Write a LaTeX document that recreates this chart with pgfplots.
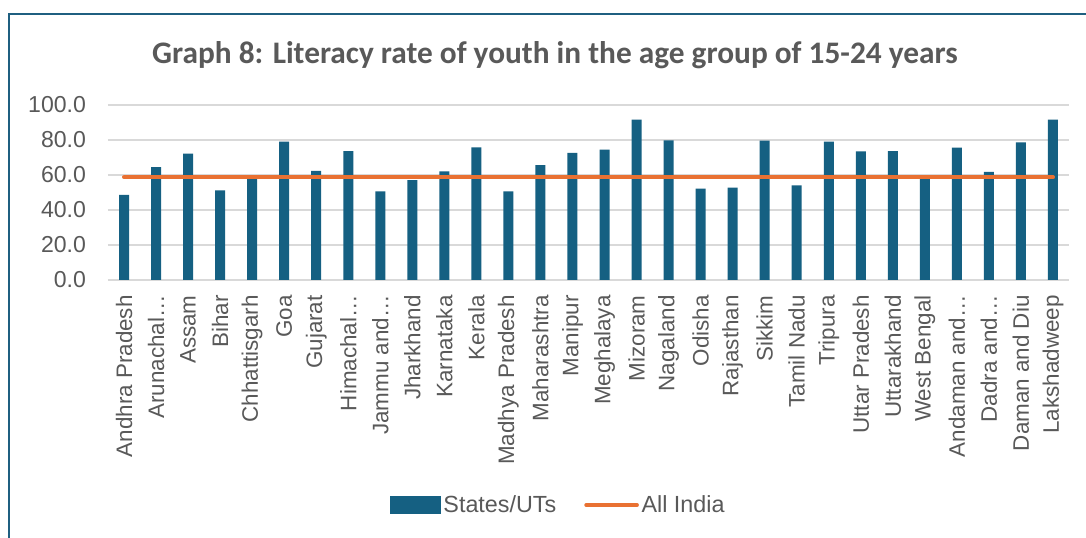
\documentclass[border=0pt]{standalone}
\usepackage{pgfplots}
\pgfplotsset{compat=1.18}
\usepackage{fontspec}
\setmainfont{Liberation Sans}
\newfontfamily\titlefont{Carlito}
\definecolor{barblue}{HTML}{156082}
\definecolor{lineorange}{HTML}{E97132}
\definecolor{txtgray}{HTML}{595959}
\definecolor{gridgray}{HTML}{D9D9D9}
\definecolor{framecol}{HTML}{1F5F80}

\begin{document}
\begin{tikzpicture}
% 1 px of the reference = 0.75pt; axis lower-left sits at px (108,280)
\useasboundingbox (-81pt,-193.5pt) rectangle (733.5pt,210pt);
\fill[white] (-81pt,-193.5pt) rectangle (733.5pt,210pt);
\draw[framecol, line width=1.1pt] (-74.25pt,-194pt) -- (-74.25pt,199.5pt) -- (734pt,199.5pt);
\node[font=\titlefont\bfseries\fontsize{23.5}{28}\selectfont, text=txtgray] at (335.25pt,168.75pt)
  {Graph 8: Literacy rate of youth in the age group of 15-24 years};
\begin{axis}[
  at={(0pt,0pt)}, anchor=south west,
  scale only axis,
  width=720.75pt, height=131.25pt,
  xmin=-0.5, xmax=29.5,
  ymin=0, ymax=100,
  ytick={0,20,40,60,80,100},
  ymajorgrids,
  grid style={gridgray, line width=0.9pt},
  axis line style={draw=none},
  major tick length=0pt,
  xtick={0,...,29},
  xticklabels={Andhra Pradesh, Arunachal…, Assam, Bihar, Chhattisgarh, Goa, Gujarat,
    Himachal…, Jammu and…, Jharkhand, Karnataka, Kerala, Madhya Pradesh, Maharashtra,
    Manipur, Meghalaya, Mizoram, Nagaland, Odisha, Rajasthan, Sikkim, Tamil Nadu,
    Tripura, Uttar Pradesh, Uttarakhand, West Bengal, Andaman and…, Dadra and…,
    Daman and Diu, Lakshadweep},
  xticklabel style={rotate=90, anchor=east, font=\fontsize{16.8}{18}\selectfont, text=txtgray},
  xtick style={draw=none},
  yticklabel style={font=\fontsize{17.3}{18}\selectfont, text=txtgray},
  yticklabel={\pgfmathprintnumber[fixed, fixed zerofill, precision=1]{\tick}},
  /pgf/number format/assume math mode=true,
  xticklabel shift=8pt,
  yticklabel shift=13pt,
  legend style={at={(0.469,-1.286)}, anchor=center, draw=none, fill=none,
    legend columns=2, font=\fontsize{17.5}{19}\selectfont, text=txtgray,
    /tikz/every even column/.append style={column sep=19pt}},
  legend cell align=left,
]
\addplot[ybar, bar width=7.5pt, bar shift=0pt, fill=barblue, draw=none,
  legend image code/.code={\fill[barblue] (0pt,-6.75pt) rectangle (38pt,6.75pt);}]
  coordinates {(0,48.6) (1,64.5) (2,72.2) (3,51.2) (4,57.6) (5,79.1) (6,62.4)
  (7,73.7) (8,50.7) (9,57.0) (10,62.0) (11,75.8) (12,50.7) (13,65.6) (14,72.6)
  (15,74.5) (16,91.6) (17,79.8) (18,52.2) (19,52.8) (20,79.7) (21,54.1)
  (22,79.1) (23,73.5) (24,73.7) (25,57.6) (26,75.6) (27,61.8) (28,78.7) (29,91.7)};
\addlegendentry{States/UTs}
\addplot[lineorange, line width=3pt, line cap=round, mark=none,
  legend image code/.code={\draw[lineorange, line width=3pt, line cap=round] (1pt,0pt) -- (39pt,0pt);}]
  coordinates {(0,58.7) (29,58.7)};
\addlegendentry{All India}
\end{axis}
\end{tikzpicture}
\end{document}
